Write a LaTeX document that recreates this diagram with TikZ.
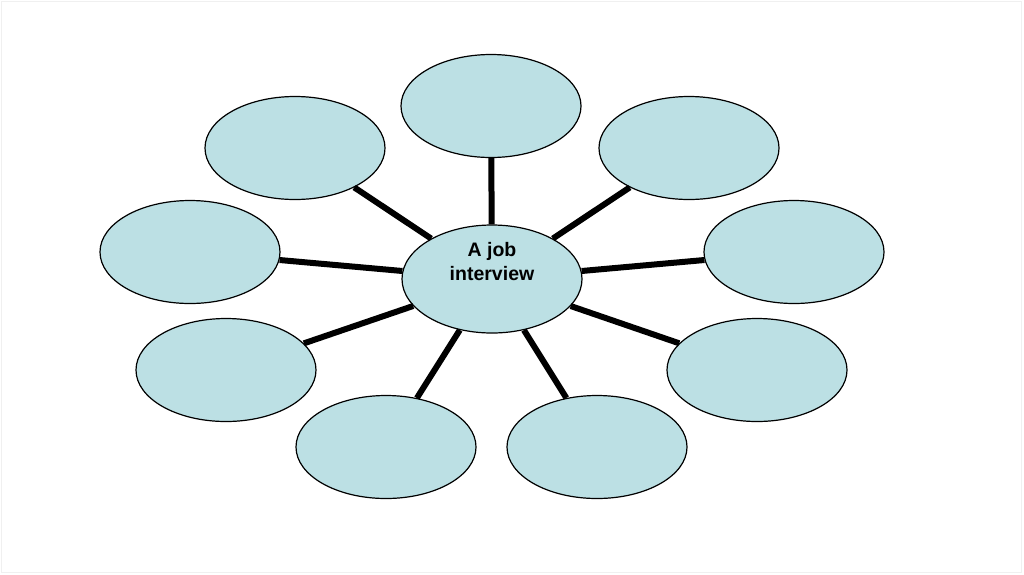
\documentclass[tikz,border=0pt]{standalone}
\usepackage{fontspec}
\setmainfont{Liberation Sans}
\usetikzlibrary{shapes.geometric}
\definecolor{bubblefill}{RGB}{188,224,228}
\definecolor{framegray}{RGB}{240,240,240}
\tikzset{
  bubble/.style={ellipse, draw=black, line width=1.2pt, fill=bubblefill,
    minimum width=180pt, minimum height=103pt, inner sep=0pt},
  hub/.style={bubble, minimum height=108pt},
  spoke/.style={line width=6pt, black},
  hubtext/.style={font=\bfseries\fontsize{19.5}{24}\selectfont, align=center, inner sep=0pt}
}
\begin{document}
\begin{tikzpicture}[x=1pt,y=-1pt]
\useasboundingbox (0,0) rectangle (1024,574);
\draw[framegray, line width=1pt] (1.5,1.5) rectangle (1021.5,572.5);
\node[hub] (c) at (492,279) {};
\node[bubble] (n) at (491,106) {};
\node[bubble] (ul) at (295,148) {};
\node[bubble] (ur) at (689,148) {};
\node[bubble] (l) at (190,252) {};
\node[bubble] (r) at (794,252) {};
\node[bubble] (ll) at (226,370) {};
\node[bubble] (lr) at (757,370) {};
\node[bubble] (bl) at (386,447) {};
\node[bubble] (br) at (597,447) {};
\foreach \o in {n,ul,ur,l,r,ll,lr,bl,br}{
  \draw[spoke] (c) -- (\o);
}
\node[hubtext] (ct) at (492,262) {A job\\interview};
\end{tikzpicture}
\end{document}
